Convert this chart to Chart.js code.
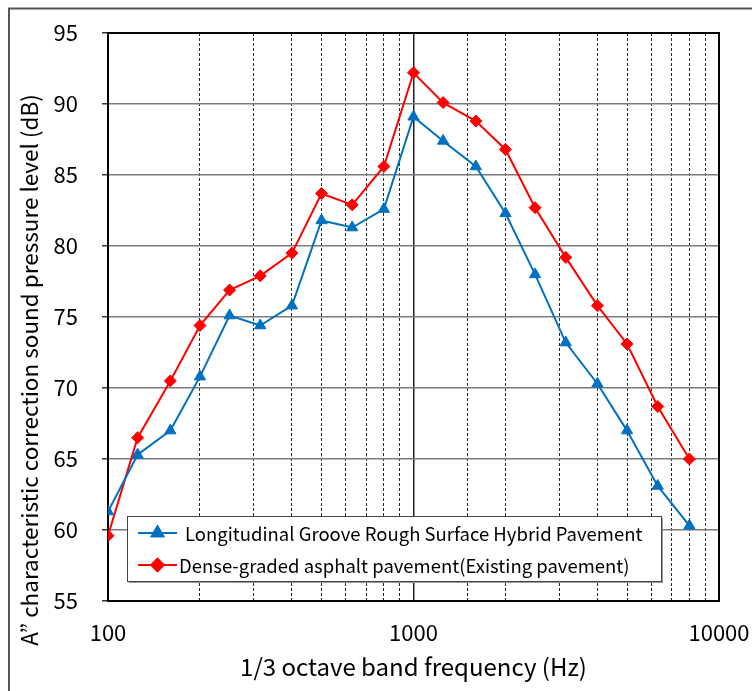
<!DOCTYPE html>
<html>
<head>
<meta charset="utf-8">
<script src="https://cdn.jsdelivr.net/npm/chart.js@4/dist/chart.umd.min.js"></script>
<style>
  html, body { margin: 0; padding: 0; background: #fff; }
  canvas { display: block; }
</style>
</head>
<body>
<canvas id="c" width="752" height="691"></canvas>
<script>
// ---- Data ----
const frequencies = [100, 125, 160, 200, 250, 315, 400, 500, 630, 800, 1000, 1250, 1600, 2000, 2500, 3150, 4000, 5000, 6300, 8000];
const hybridValues = [61.3, 65.3, 67.0, 70.8, 75.1, 74.4, 75.8, 81.8, 81.3, 82.6, 89.1, 87.4, 85.6, 82.3, 78.0, 73.2, 70.3, 67.0, 63.1, 60.3];
const denseValues  = [59.6, 66.5, 70.5, 74.4, 76.9, 77.9, 79.5, 83.7, 82.9, 85.6, 92.2, 90.1, 88.8, 86.8, 82.7, 79.2, 75.8, 73.1, 68.7, 65.0];
const seriesLabels = ['Longitudinal Groove Rough Surface Hybrid Pavement', 'Dense-graded asphalt pavement(Existing pavement)'];
const xTickLabels = [100, 1000, 10000];
const yMin = 55, yMax = 95, yStep = 5;
const xTitle = '1/3 octave band frequency (Hz)';
const yTitle = 'A” characteristic correction sound pressure level (dB)';

const FONT = "'Noto Sans CJK JP', 'Noto Sans', sans-serif";

const toPoints = vals => frequencies.map((f, i) => ({ x: f, y: vals[i] }));
const isMajor = v => xTickLabels.includes(Math.round(v));

const decorPlugin = {
  id: 'decor',
  beforeDraw(chart) {
    const ctx = chart.ctx;
    ctx.save();
    ctx.fillStyle = '#fff';
    ctx.fillRect(0, 0, chart.width, chart.height);
    ctx.strokeStyle = '#555';
    ctx.lineWidth = 2;
    ctx.beginPath();
    ctx.moveTo(9, 691);
    ctx.lineTo(9, 8.5);
    ctx.lineTo(752, 8.5);
    ctx.stroke();
    ctx.restore();
  },
  beforeDatasetsDraw(chart) {
    const { ctx, chartArea: a } = chart;
    ctx.save();
    ctx.strokeStyle = '#000';
    ctx.lineWidth = 2;
    ctx.strokeRect(a.left, a.top, a.right - a.left, a.bottom - a.top);
    ctx.restore();
  },
  afterDraw(chart) {
    const { ctx, chartArea: a } = chart;
    ctx.save();
    // axis titles
    ctx.fillStyle = '#000';
    ctx.font = '24px ' + FONT;
    ctx.textAlign = 'center';
    ctx.textBaseline = 'middle';
    ctx.fillText(xTitle, (a.left + a.right) / 2, 667);
    ctx.translate(29, 370);
    ctx.rotate(-Math.PI / 2);
    ctx.font = '22.5px ' + FONT;
    ctx.fillText(yTitle, 0, 0);
    ctx.restore();

    // legend box inside plot
    const bx = 127, by = 516, bw = 534, bh = 65;
    ctx.save();
    ctx.fillStyle = '#9a9a9a';
    ctx.fillRect(bx + 2, by + 2, bw, bh);
    ctx.fillStyle = '#fff';
    ctx.fillRect(bx, by, bw, bh);
    ctx.strokeStyle = '#444';
    ctx.lineWidth = 1;
    ctx.strokeRect(bx + 0.5, by + 0.5, bw, bh);
    const rows = [by + 17, by + 49];
    const textX = [185, 179];
    chart.data.datasets.forEach((ds, i) => {
      const y = rows[i];
      ctx.strokeStyle = ds.borderColor;
      ctx.lineWidth = 2;
      ctx.beginPath();
      ctx.moveTo(138, y);
      ctx.lineTo(177, y);
      ctx.stroke();
      Chart.helpers.drawPoint(ctx, {
        pointStyle: ds.pointStyle, radius: ds.pointRadius, rotation: 0, borderWidth: 1
      }, 157.5, y);
      ctx.fillStyle = ds.backgroundColor;
      ctx.strokeStyle = ds.borderColor;
      ctx.fill();
      ctx.stroke();
      ctx.fillStyle = '#000';
      ctx.font = '18.5px ' + FONT;
      ctx.textAlign = 'left';
      ctx.textBaseline = 'middle';
      ctx.fillText(ds.label, textX[i], y + 1);
    });
    ctx.restore();
  }
};

new Chart(document.getElementById('c'), {
  type: 'line',
  data: {
    datasets: [
      {
        label: seriesLabels[0],
        data: toPoints(hybridValues),
        borderColor: '#0070C0',
        backgroundColor: '#0070C0',
        borderWidth: 2,
        pointStyle: 'triangle',
        pointRadius: 6.5,
        pointHoverRadius: 6.5,
        pointBorderWidth: 1,
        tension: 0
      },
      {
        label: seriesLabels[1],
        data: toPoints(denseValues),
        borderColor: '#FF0000',
        backgroundColor: '#FF0000',
        borderWidth: 2,
        pointStyle: 'rectRot',
        pointRadius: 6,
        pointHoverRadius: 6,
        pointBorderWidth: 1,
        tension: 0
      }
    ]
  },
  options: {
    responsive: false,
    devicePixelRatio: 1,
    animation: false,
    events: [],
    layout: { autoPadding: false, padding: { left: 0, right: 33, top: 33, bottom: 0 } },
    plugins: { legend: { display: false }, tooltip: { enabled: false } },
    scales: {
      x: {
        type: 'logarithmic',
        min: 100,
        max: 10000,
        afterFit(scale) {
          scale.height = 90;
          scale.paddingLeft = 0;
          scale.paddingRight = 0;
        },
        border: {
          display: true, color: '#000', width: 2,
          dash: ctx => (ctx.tick && isMajor(ctx.tick.value)) ? [] : [3, 2]
        },
        grid: {
          drawTicks: false,
          color: ctx => (ctx.tick && isMajor(ctx.tick.value)) ? '#222' : '#2a2a2a',
          lineWidth: ctx => (ctx.tick && isMajor(ctx.tick.value)) ? 1.5 : 1
        },
        ticks: {
          padding: 18,
          autoSkip: false,
          maxRotation: 0,
          color: '#000',
          font: { family: FONT, size: 22 },
          callback: v => isMajor(v) ? String(Math.round(v)) : ''
        }
      },
      y: {
        min: yMin,
        max: yMax,
        afterFit(scale) {
          scale.width = 108;
          scale.paddingTop = 0;
          scale.paddingBottom = 0;
        },
        border: { display: true, color: '#000', width: 2 },
        grid: {
          color: '#7a7a7a',
          lineWidth: 1.5,
          tickLength: 6,
          tickColor: '#333'
        },
        ticks: {
          stepSize: yStep,
          padding: 24,
          color: '#000',
          font: { family: FONT, size: 22 }
        }
      }
    }
  },
  plugins: [decorPlugin]
});
</script>
</body>
</html>
